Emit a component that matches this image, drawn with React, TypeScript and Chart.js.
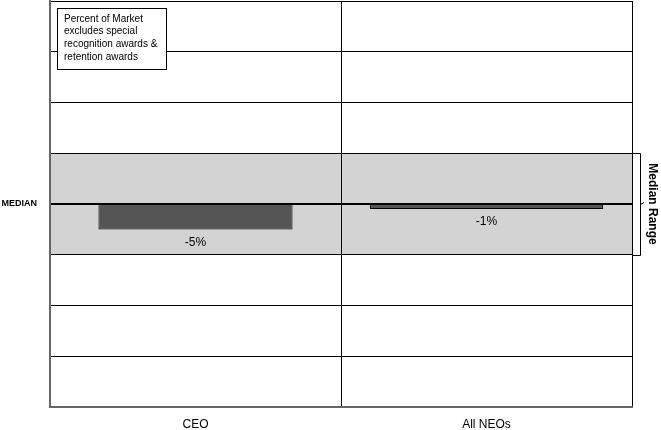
import React, { useEffect, useRef } from 'react';
import { Chart, registerables } from 'chart.js';

Chart.register(...registerables);

const categories = ['CEO', 'All NEOs'];
const percentOfMarket = [-5, -1];
const medianRange = [-10, 10];
const yMin = -40;
const yMax = 40;
const yStep = 10;
const medianLabel = 'MEDIAN';
const rangeLabel = 'Median Range';
const noteLines = ['Percent of Market', 'excludes special', 'recognition awards &', 'retention awards'];

const FONT = '"Liberation Sans", Arial, Helvetica, sans-serif';

const decorPlugin = {
  id: 'decor',
  beforeDraw(chart: any) {
    const { ctx, chartArea } = chart;
    const y = chart.scales.y;
    const top = y.getPixelForValue(medianRange[1]);
    const bot = y.getPixelForValue(medianRange[0]);
    ctx.save();
    ctx.fillStyle = '#d3d3d3';
    ctx.fillRect(chartArea.left, top, chartArea.right - chartArea.left, bot - top);
    ctx.restore();
  },
  afterDraw(chart: any) {
    const { ctx, chartArea } = chart;
    const y = chart.scales.y;
    const x = chart.scales.x;
    const top = y.getPixelForValue(medianRange[1]);
    const bot = y.getPixelForValue(medianRange[0]);
    const mid = y.getPixelForValue(0);
    const r = chartArea.right;
    ctx.save();
    // bracket
    ctx.strokeStyle = '#000';
    ctx.lineWidth = 1;
    ctx.beginPath();
    ctx.moveTo(r, Math.round(top) + 0.5);
    ctx.lineTo(r + 8.5, Math.round(top) + 0.5);
    ctx.lineTo(r + 8.5, Math.round(bot) + 0.5);
    ctx.lineTo(r, Math.round(bot) + 0.5);
    ctx.moveTo(r + 8.5, Math.round(mid) + 0.5);
    ctx.lineTo(r + 12, Math.round(mid) - 1.5);
    ctx.stroke();
    // rotated label
    ctx.translate(r + 20, (top + bot) / 2);
    ctx.rotate(Math.PI / 2);
    ctx.fillStyle = '#000';
    ctx.font = `bold 12px ${FONT}`;
    ctx.textAlign = 'center';
    ctx.textBaseline = 'middle';
    ctx.fillText(rangeLabel, 0, 0);
    ctx.restore();

    // value labels
    ctx.save();
    ctx.fillStyle = '#000';
    ctx.font = `12px ${FONT}`;
    ctx.textAlign = 'center';
    ctx.textBaseline = 'top';
    percentOfMarket.forEach((v, i) => {
      const el = chart.getDatasetMeta(i).data[i];
      const cx = x.getPixelForValue(i);
      ctx.fillText(`${v}%`, cx, Math.max(el.y, el.base) + 7);
    });
    ctx.restore();

    // note box
    ctx.save();
    const bx = chartArea.left + 7;
    const by = chartArea.top + 7;
    ctx.fillStyle = '#fff';
    ctx.fillRect(bx, by, 109, 61);
    ctx.strokeStyle = '#000';
    ctx.lineWidth = 1;
    ctx.strokeRect(bx + 0.5, by + 0.5, 109, 61);
    ctx.fillStyle = '#000';
    ctx.font = `10px ${FONT}`;
    ctx.textAlign = 'left';
    ctx.textBaseline = 'middle';
    noteLines.forEach((t, i) => {
      ctx.fillText(t, bx + 7, by + 11 + i * 12.7);
    });
    ctx.restore();
  },
};

export default function App() {
  const ref = useRef<HTMLCanvasElement | null>(null);

  useEffect(() => {
    if (!ref.current) return;
    const datasets = percentOfMarket.map((v, i) => ({
      label: categories[i],
      data: categories.map((_, j) => (j === i ? v : null)),
      backgroundColor: '#555555',
      borderColor: '#000000',
      borderWidth: 1,
      borderSkipped: 'start' as const,
      grouped: false,
      categoryPercentage: 1,
      barPercentage: i === 0 ? 0.667 : 0.8,
    }));
    const chart = new Chart(ref.current, {
      type: 'bar',
      data: { labels: categories, datasets },
      options: {
        responsive: false,
        animation: false,
        devicePixelRatio: 1,
        layout: { padding: { top: 1, right: 29, left: 0, bottom: 0 } },
        plugins: { legend: { display: false }, tooltip: { enabled: false } },
        scales: {
          x: {
            afterFit: (s: any) => { s.height = 23; s.paddingLeft = 0; s.paddingRight = 0; },
            grid: { offset: true, color: '#000', lineWidth: 1, drawTicks: false },
            border: { display: true, color: '#666', width: 2 },
            ticks: { color: '#000', font: { family: FONT, size: 12 }, padding: 10 },
          },
          y: {
            min: yMin,
            max: yMax,
            afterFit: (s: any) => { s.width = 50; s.paddingTop = 0; s.paddingBottom = 0; },
            grid: {
              z: 1,
              drawTicks: false,
              color: (c: any) => (c.tick && c.tick.value === yMin ? 'rgba(0,0,0,0)' : '#000'),
              lineWidth: (c: any) => (c.tick && c.tick.value === 0 ? 2 : 1),
            },
            border: { display: true, color: '#666', width: 2, z: 1 },
            ticks: {
              stepSize: yStep,
              color: '#000',
              padding: 13,
              font: { family: FONT, size: 9, weight: 'bold' },
              callback: (v: any) => (Number(v) === 0 ? medianLabel : ''),
            },
          },
        },
      },
      plugins: [decorPlugin],
    });
    return () => chart.destroy();
  }, []);

  return (
    <div style={{ position: 'fixed', left: 0, top: 0, width: 661, height: 430, background: '#fff' }}>
      <canvas ref={ref} width={661} height={430} />
    </div>
  );
}
